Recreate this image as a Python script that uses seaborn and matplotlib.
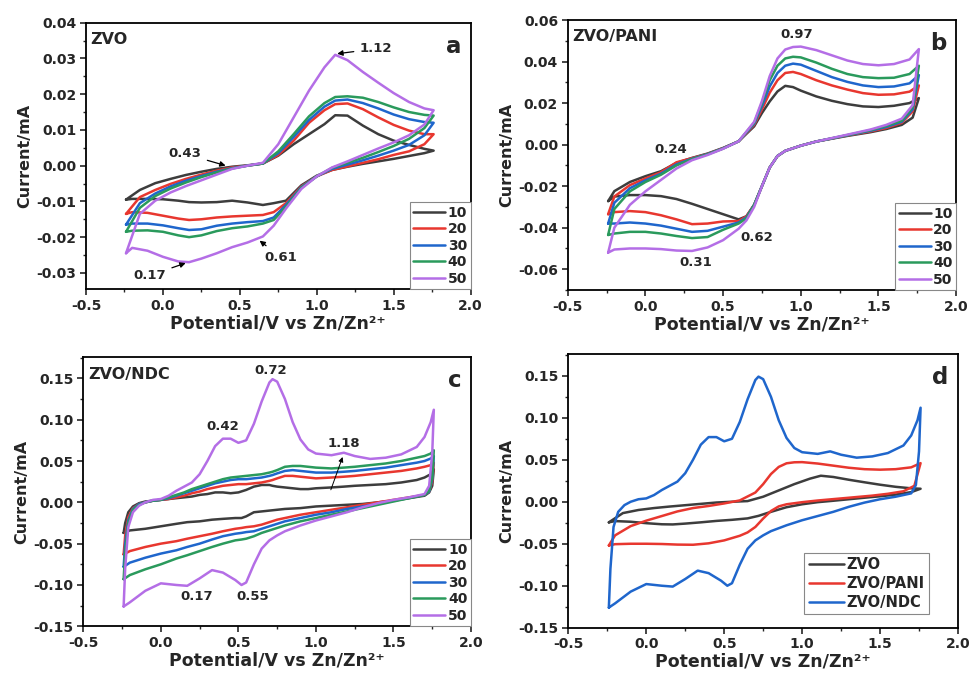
import numpy as np
import pandas as pd
import matplotlib
matplotlib.use("Agg")
import matplotlib.pyplot as plt
import seaborn as sns
from matplotlib.ticker import AutoMinorLocator, MultipleLocator, FormatStrFormatter

sns.set_style("ticks")
plt.rcParams['font.family'] = ['DejaVu Sans']
plt.rcParams['font.weight'] = 'bold'
plt.rcParams['axes.unicode_minus'] = False

# ---------------- data ----------------
rates = ["10", "20", "30", "40", "50"]
rate_colors = ["#3d3d3d", "#e8372f", "#1f66cc", "#2a9a5c", "#b46ee6"]

# Panel a : ZVO
a_E_fwd = [-0.24, -0.15, -0.05, 0.05, 0.15, 0.25, 0.35, 0.45, 0.55, 0.65, 0.75, 0.85, 0.95, 1.05, 1.12, 1.2, 1.3, 1.4, 1.5, 1.6, 1.7, 1.76]
a_E_rev = [1.76, 1.7, 1.6, 1.5, 1.4, 1.3, 1.2, 1.1, 1.0, 0.9, 0.8, 0.72, 0.65, 0.55, 0.45, 0.35, 0.25, 0.17, 0.1, 0.0, -0.1, -0.2, -0.24]
a_fwd = {
    "10": [-0.0095, -0.0068, -0.0049, -0.0037, -0.0026, -0.0017, -0.0009, -0.0003, 0.0001, 0.0006, 0.0028, 0.006, 0.0088, 0.0116, 0.0141, 0.014, 0.0112, 0.0088, 0.007, 0.0058, 0.0047, 0.0042],
    "20": [-0.0135, -0.0088, -0.0068, -0.0051, -0.0037, -0.0025, -0.0014, -0.0005, 0.0, 0.0006, 0.003, 0.007, 0.012, 0.0155, 0.0172, 0.0174, 0.0158, 0.0135, 0.0114, 0.0098, 0.0088, 0.0088],
    "30": [-0.0165, -0.0105, -0.0078, -0.0058, -0.0042, -0.0029, -0.0017, -0.0007, 0.0, 0.0006, 0.0035, 0.008, 0.0128, 0.0165, 0.0182, 0.0185, 0.0175, 0.016, 0.0143, 0.013, 0.0122, 0.012],
    "40": [-0.0185, -0.0118, -0.0085, -0.0064, -0.0047, -0.0032, -0.0019, -0.0008, 0.0, 0.0006, 0.004, 0.0088, 0.0138, 0.0175, 0.0192, 0.0194, 0.019, 0.0178, 0.0163, 0.015, 0.0142, 0.014],
    "50": [-0.0245, -0.0135, -0.0098, -0.0075, -0.0057, -0.0041, -0.0025, -0.0009, 0.0, 0.0008, 0.006, 0.0135, 0.021, 0.0275, 0.031, 0.0295, 0.0262, 0.0232, 0.0203, 0.0178, 0.016, 0.0155],
}
a_rev = {
    "10": [0.0042, 0.0035, 0.0027, 0.0019, 0.0012, 0.0005, -0.0003, -0.0012, -0.0028, -0.0055, -0.0098, -0.0105, -0.011, -0.0103, -0.0098, -0.0102, -0.0103, -0.0102, -0.0098, -0.0094, -0.0093, -0.0093, -0.0095],
    "20": [0.0088, 0.006, 0.004, 0.003, 0.0018, 0.0008, -0.0002, -0.0012, -0.003, -0.0058, -0.0105, -0.013, -0.0138, -0.014, -0.0142, -0.0145, -0.015, -0.0152, -0.0148, -0.014, -0.0132, -0.013, -0.0135],
    "30": [0.012, 0.0085, 0.0058, 0.0042, 0.0028, 0.0015, 0.0003, -0.0009, -0.003, -0.006, -0.011, -0.0145, -0.0155, -0.0158, -0.0162, -0.0168, -0.0178, -0.018, -0.0175, -0.0167, -0.0162, -0.0162, -0.0165],
    "40": [0.014, 0.0105, 0.0075, 0.0055, 0.0038, 0.0022, 0.0008, -0.0006, -0.003, -0.0062, -0.0115, -0.0152, -0.0162, -0.017, -0.0175, -0.0183, -0.0195, -0.02, -0.0195, -0.0185, -0.0181, -0.0182, -0.0185],
    "50": [0.0155, 0.0115, 0.0085, 0.0065, 0.0048, 0.003, 0.0012, -0.0005, -0.003, -0.0065, -0.012, -0.0168, -0.0198, -0.0215, -0.0228, -0.0245, -0.026, -0.027, -0.0268, -0.0255, -0.0238, -0.023, -0.0245],
}

# Panel b : ZVO/PANI
b_E_fwd = [-0.24, -0.2, -0.1, 0.0, 0.1, 0.2, 0.3, 0.4, 0.5, 0.6, 0.7, 0.75, 0.8, 0.85, 0.9, 0.95, 1.0, 1.1, 1.2, 1.3, 1.4, 1.5, 1.6, 1.7, 1.76]
b_E_rev = [1.76, 1.72, 1.65, 1.55, 1.45, 1.3, 1.1, 1.0, 0.9, 0.85, 0.8, 0.75, 0.7, 0.65, 0.6, 0.5, 0.4, 0.3, 0.2, 0.1, 0.0, -0.1, -0.2, -0.24]
b_fwd = {
    "10": [-0.0272, -0.0224, -0.018, -0.0152, -0.0128, -0.0088, -0.0064, -0.0043, -0.0016, 0.0016, 0.0088, 0.0152, 0.0208, 0.0256, 0.0283, 0.0277, 0.026, 0.0232, 0.0211, 0.0195, 0.0184, 0.0181, 0.0187, 0.02, 0.0224],
    "20": [-0.0335, -0.025, -0.0195, -0.0163, -0.0133, -0.0085, -0.0065, -0.0045, -0.0017, 0.0016, 0.0095, 0.017, 0.025, 0.031, 0.0345, 0.035, 0.034, 0.031, 0.0285, 0.0265, 0.0248, 0.024, 0.0242, 0.0255, 0.0285],
    "30": [-0.038, -0.028, -0.021, -0.0172, -0.014, -0.0095, -0.0068, -0.0046, -0.0018, 0.0016, 0.01, 0.0185, 0.028, 0.0345, 0.038, 0.039, 0.0385, 0.0355, 0.0325, 0.0302, 0.0285, 0.0277, 0.028, 0.0295, 0.0335],
    "40": [-0.0435, -0.031, -0.0225, -0.018, -0.0145, -0.01, -0.007, -0.0047, -0.0019, 0.0016, 0.0105, 0.02, 0.031, 0.038, 0.0415, 0.0423, 0.042, 0.0395, 0.0365, 0.034, 0.0325, 0.032, 0.0322, 0.034, 0.038],
    "50": [-0.052, -0.04, -0.029, -0.0225, -0.017, -0.0115, -0.0075, -0.005, -0.002, 0.0016, 0.011, 0.021, 0.033, 0.0415, 0.0458, 0.047, 0.0472, 0.0455, 0.043, 0.0405, 0.0388, 0.0382, 0.0388, 0.041, 0.046],
}
b_rev = {
    "10": [0.0224, 0.013, 0.0095, 0.0075, 0.006, 0.0042, 0.0015, -0.0005, -0.003, -0.0055, -0.011, -0.02, -0.029, -0.0345, -0.036, -0.0335, -0.031, -0.0285, -0.0262, -0.0248, -0.0243, -0.0243, -0.025, -0.0272],
    "20": [0.0285, 0.016, 0.0105, 0.008, 0.0064, 0.0044, 0.0015, -0.0005, -0.003, -0.0055, -0.011, -0.02, -0.029, -0.0345, -0.0368, -0.037, -0.038, -0.0383, -0.036, -0.034, -0.0325, -0.032, -0.0325, -0.0335],
    "30": [0.0335, 0.017, 0.011, 0.0085, 0.0067, 0.0045, 0.0015, -0.0005, -0.003, -0.0055, -0.011, -0.02, -0.029, -0.035, -0.0375, -0.0395, -0.0415, -0.042, -0.0405, -0.039, -0.038, -0.0375, -0.038, -0.038],
    "40": [0.038, 0.018, 0.0115, 0.009, 0.007, 0.0046, 0.0015, -0.0005, -0.003, -0.0055, -0.011, -0.02, -0.029, -0.0355, -0.038, -0.041, -0.0445, -0.045, -0.044, -0.0428, -0.042, -0.042, -0.0428, -0.0435],
    "50": [0.046, 0.019, 0.0125, 0.0095, 0.0073, 0.0048, 0.0015, -0.0005, -0.003, -0.0055, -0.011, -0.02, -0.03, -0.0365, -0.0405, -0.046, -0.0495, -0.0512, -0.051, -0.0503, -0.05, -0.05, -0.0505, -0.052],
}

# Panel c : ZVO/NDC
c_E_fwd = [-0.24, -0.23, -0.21, -0.18, -0.14, -0.1, -0.05, 0.0, 0.05, 0.1, 0.15, 0.2, 0.25, 0.3, 0.35, 0.4, 0.45, 0.5, 0.55, 0.6, 0.65, 0.7, 0.72, 0.75, 0.8, 0.85, 0.9, 0.95, 1.0, 1.1, 1.18, 1.25, 1.35, 1.45, 1.55, 1.65, 1.7, 1.74, 1.76]
c_E_rev = [1.76, 1.75, 1.73, 1.7, 1.6, 1.5, 1.4, 1.3, 1.2, 1.1, 1.0, 0.9, 0.8, 0.75, 0.7, 0.65, 0.6, 0.55, 0.52, 0.48, 0.4, 0.33, 0.25, 0.17, 0.1, 0.0, -0.1, -0.2, -0.24]
c_fwd = {
    "10": [-0.037, -0.025, -0.012, -0.005, -0.001, 0.001, 0.002, 0.003, 0.004, 0.005, 0.006, 0.007, 0.009, 0.01, 0.012, 0.012, 0.011, 0.012, 0.015, 0.019, 0.021, 0.021, 0.02, 0.019, 0.018, 0.017, 0.016, 0.016, 0.017, 0.018, 0.019, 0.02, 0.021, 0.022, 0.024, 0.027, 0.03, 0.034, 0.04],
    "20": [-0.063, -0.04, -0.018, -0.007, -0.002, 0.0, 0.002, 0.003, 0.004, 0.006, 0.008, 0.011, 0.013, 0.016, 0.018, 0.02, 0.021, 0.022, 0.022, 0.023, 0.024, 0.026, 0.027, 0.029, 0.032, 0.032, 0.031, 0.03, 0.029, 0.03, 0.031, 0.032, 0.034, 0.036, 0.038, 0.041, 0.043, 0.045, 0.048],
    "30": [-0.078, -0.05, -0.022, -0.008, -0.002, 0.0, 0.002, 0.003, 0.005, 0.008, 0.011, 0.014, 0.017, 0.02, 0.023, 0.025, 0.027, 0.028, 0.028, 0.029, 0.03, 0.032, 0.033, 0.035, 0.038, 0.039, 0.038, 0.037, 0.036, 0.036, 0.037, 0.038, 0.04, 0.042, 0.045, 0.048, 0.05, 0.053, 0.056],
    "40": [-0.093, -0.06, -0.025, -0.009, -0.003, 0.0, 0.002, 0.003, 0.006, 0.009, 0.012, 0.016, 0.019, 0.022, 0.025, 0.028, 0.03, 0.031, 0.032, 0.033, 0.034, 0.036, 0.037, 0.039, 0.043, 0.044, 0.044, 0.043, 0.042, 0.041, 0.042, 0.043, 0.045, 0.047, 0.05, 0.054, 0.056, 0.059, 0.063],
    "50": [-0.126, -0.08, -0.03, -0.012, -0.004, 0.0, 0.003, 0.004, 0.008, 0.014, 0.019, 0.024, 0.034, 0.05, 0.068, 0.077, 0.077, 0.072, 0.075, 0.095, 0.122, 0.145, 0.149, 0.146, 0.125, 0.097, 0.076, 0.064, 0.059, 0.057, 0.06, 0.056, 0.0525, 0.054, 0.058, 0.067, 0.079, 0.097, 0.112],
}
c_rev = {
    "10": [0.04, 0.02, 0.012, 0.008, 0.005, 0.002, 0.0, -0.002, -0.003, -0.004, -0.005, -0.007, -0.008, -0.009, -0.01, -0.011, -0.012, -0.017, -0.019, -0.019, -0.02, -0.021, -0.023, -0.024, -0.026, -0.029, -0.032, -0.034, -0.037],
    "20": [0.048, 0.025, 0.013, 0.009, 0.006, 0.003, 0.0, -0.003, -0.006, -0.009, -0.012, -0.015, -0.019, -0.021, -0.024, -0.027, -0.029, -0.03, -0.031, -0.032, -0.035, -0.038, -0.041, -0.044, -0.047, -0.05, -0.054, -0.059, -0.063],
    "30": [0.056, 0.028, 0.013, 0.009, 0.0055, 0.002, -0.002, -0.005, -0.008, -0.012, -0.015, -0.019, -0.023, -0.026, -0.029, -0.032, -0.035, -0.036, -0.037, -0.038, -0.041, -0.045, -0.05, -0.054, -0.058, -0.062, -0.067, -0.073, -0.078],
    "40": [0.063, 0.03, 0.014, 0.009, 0.005, 0.001, -0.003, -0.007, -0.011, -0.015, -0.019, -0.023, -0.028, -0.031, -0.034, -0.037, -0.041, -0.044, -0.045, -0.046, -0.05, -0.054, -0.059, -0.064, -0.068, -0.075, -0.081, -0.088, -0.093],
    "50": [0.112, 0.06, 0.02, 0.01, 0.006, 0.003, -0.001, -0.006, -0.012, -0.017, -0.022, -0.028, -0.035, -0.04, -0.046, -0.056, -0.075, -0.097, -0.1, -0.094, -0.085, -0.082, -0.092, -0.101, -0.1, -0.098, -0.107, -0.121, -0.126],
}

# Panel d : comparison at 50 mV/s
d_samples = ["ZVO", "ZVO/PANI", "ZVO/NDC"]
d_colors = ["#3d3d3d", "#e8372f", "#1f66cc"]


def loops(E_fwd, E_rev, fwd, rev, keys, labels=None):
    rows = []
    labels = labels or keys
    for k, lab in zip(keys, labels):
        E = list(E_fwd) + list(E_rev)
        I = list(fwd[k]) + list(rev[k])
        for i, (e, c) in enumerate(zip(E, I)):
            rows.append({"E": e, "I": c, "series": lab, "step": i})
    return pd.DataFrame(rows)


df_a = loops(a_E_fwd, a_E_rev, a_fwd, a_rev, rates)
df_b = loops(b_E_fwd, b_E_rev, b_fwd, b_rev, rates)
df_c = loops(c_E_fwd, c_E_rev, c_fwd, c_rev, rates)
df_d = pd.concat([
    loops(a_E_fwd, a_E_rev, a_fwd, a_rev, ["50"], ["ZVO"]),
    loops(b_E_fwd, b_E_rev, b_fwd, b_rev, ["50"], ["ZVO/PANI"]),
    loops(c_E_fwd, c_E_rev, c_fwd, c_rev, ["50"], ["ZVO/NDC"]),
], ignore_index=True)

# ---------------- figure ----------------
fig = plt.figure(figsize=(9.71, 6.76), dpi=100)
ax_a = fig.add_axes([0.0886, 0.5725, 0.396, 0.394])
ax_b = fig.add_axes([0.5847, 0.571, 0.400, 0.3994])
ax_c = fig.add_axes([0.0858, 0.0735, 0.3993, 0.398])
ax_d = fig.add_axes([0.5853, 0.0714, 0.4013, 0.405])

lw = 1.8
for ax, df, pal, hue_order in [
    (ax_a, df_a, rate_colors, rates),
    (ax_b, df_b, rate_colors, rates),
    (ax_c, df_c, rate_colors, rates),
    (ax_d, df_d, d_colors, d_samples),
]:
    sns.lineplot(data=df, x="E", y="I", hue="series", hue_order=hue_order,
                 palette=pal, sort=False, estimator=None, lw=lw, ax=ax)

settings = [
    (ax_a, (-0.0345, 0.04), 0.01, "ZVO", "a"),
    (ax_b, (-0.07, 0.06), 0.02, "ZVO/PANI", "b"),
    (ax_c, (-0.15, 0.1755), 0.05, "ZVO/NDC", "c"),
    (ax_d, (-0.15, 0.176), 0.05, "", "d"),
]
for ax, ylim, ystep, title, letter in settings:
    ax.set_xlim(-0.5, 2.0)
    ax.set_ylim(*ylim)
    ax.xaxis.set_major_locator(MultipleLocator(0.5))
    ax.yaxis.set_major_locator(MultipleLocator(ystep))
    ax.xaxis.set_minor_locator(AutoMinorLocator(2))
    ax.yaxis.set_minor_locator(AutoMinorLocator(2))
    ax.xaxis.set_major_formatter(FormatStrFormatter('%.1f'))
    ax.yaxis.set_major_formatter(FormatStrFormatter('%.2f'))
    ax.tick_params(which='major', direction='out', length=4.5, width=1.2,
                   labelsize=10, top=False, right=False, pad=2.5)
    ax.tick_params(which='minor', direction='out', length=2.5, width=1.0,
                   top=False, right=False)
    for lab in ax.get_xticklabels() + ax.get_yticklabels():
        lab.set_fontweight('bold')
    for sp in ax.spines.values():
        sp.set_linewidth(1.3)
        sp.set_color('black')
        sp.set_visible(True)
    ax.set_xlabel("Potential/V vs Zn/Zn\u00b2\u207a", fontsize=12.5, fontweight='bold', labelpad=1)
    ax.set_ylabel("Current/mA", fontsize=11.5, fontweight='bold', labelpad=3)
    if title:
        ax.text(0.012, 0.965, title, transform=ax.transAxes, ha='left', va='top',
                fontsize=11.5, fontweight='bold')
    ax.text(0.975, 0.955, letter, transform=ax.transAxes, ha='right', va='top',
            fontsize=16.5, fontweight='bold')

# legends
for ax in (ax_a, ax_b, ax_c):
    h, l = ax.get_legend_handles_labels()
    leg = ax.legend(h, l, loc='lower right', frameon=True, fancybox=False,
                    edgecolor='#888888', prop={'weight': 'bold', 'size': 10},
                    handlelength=2.3, handletextpad=0.2, labelspacing=0.18,
                    borderpad=0.25, borderaxespad=0.0, framealpha=1)
    leg.get_frame().set_linewidth(0.8)
h, l = ax_d.get_legend_handles_labels()
leg = ax_d.legend(h, l, loc='lower right', bbox_to_anchor=(0.926, 0.05),
                  frameon=True, fancybox=False, edgecolor='#888888',
                  prop={'weight': 'bold', 'size': 10.5}, handlelength=2.4,
                  handletextpad=0.2, labelspacing=0.25, borderpad=0.3,
                  borderaxespad=0.0, framealpha=1)
leg.get_frame().set_linewidth(0.8)

# annotations panel a
ak = dict(arrowstyle='-|>', color='black', lw=0.9, mutation_scale=8)
fs = 9.5
ax_a.annotate("1.12", xy=(1.115, 0.0312), xytext=(1.28, 0.0327), fontsize=fs,
              fontweight='bold', ha='left', va='center', arrowprops=ak)
ax_a.annotate("0.43", xy=(0.425, -0.0002), xytext=(0.25, 0.0033), fontsize=fs,
              fontweight='bold', ha='right', va='center', arrowprops=ak)
ax_a.annotate("0.61", xy=(0.614, -0.0205), xytext=(0.66, -0.0256), fontsize=fs,
              fontweight='bold', ha='left', va='center', arrowprops=ak)
ax_a.annotate("0.17", xy=(0.165, -0.027), xytext=(0.02, -0.0307), fontsize=fs,
              fontweight='bold', ha='right', va='center', arrowprops=ak)

# annotations panel b
for txt, x, y in [("0.97", 0.974, 0.0528), ("0.24", 0.165, -0.0024),
                  ("0.62", 0.717, -0.0448), ("0.31", 0.326, -0.0568)]:
    ax_b.text(x, y, txt, fontsize=fs, fontweight='bold', ha='center', va='center')

# annotations panel c
for txt, x, y in [("0.72", 0.71, 0.16), ("0.42", 0.40, 0.0915),
                  ("1.18", 1.178, 0.0706), ("0.17", 0.232, -0.114), ("0.55", 0.594, -0.114)]:
    ax_c.text(x, y, txt, fontsize=fs, fontweight='bold', ha='center', va='center')
ax_c.annotate("", xy=(1.178, 0.058), xytext=(1.09, 0.012),
              arrowprops=dict(arrowstyle='-|>', color='black', lw=0.7, mutation_scale=7))

fig.savefig("out.png", dpi=100)
